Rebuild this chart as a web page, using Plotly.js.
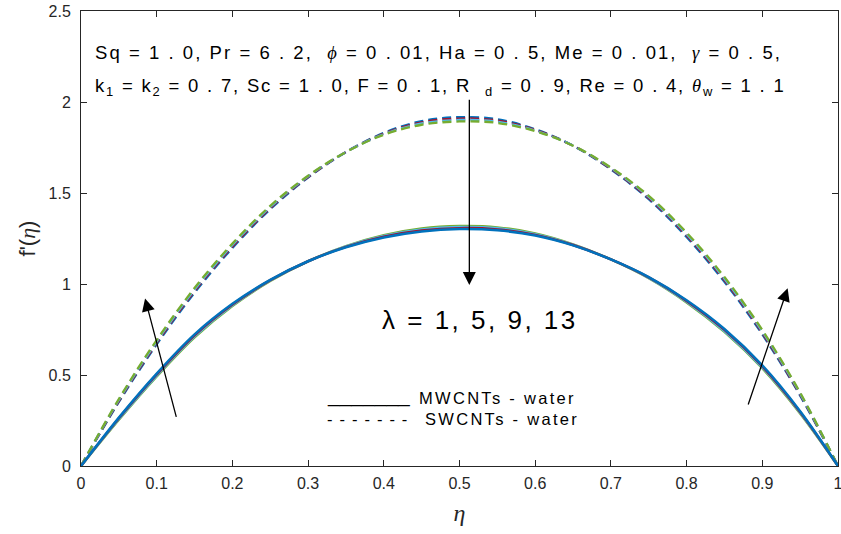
<!DOCTYPE html>
<html>
<head>
<meta charset="utf-8">
<script src="https://cdn.plot.ly/plotly-3.0.1.min.js"></script>
<style>
html,body{margin:0;padding:0;background:#fff;}
#chart{width:841px;height:534px;}
.annotation[data-index="0"] .annotation-text{letter-spacing:2.05px;}
.annotation[data-index="1"] .annotation-text{letter-spacing:1.8px;}
.annotation[data-index="2"] .annotation-text{letter-spacing:2.5px;}
.annotation[data-index="3"] .annotation-text{letter-spacing:0px;}
.annotation[data-index="4"] .annotation-text{letter-spacing:2.3px;}
.annotation[data-index="5"] .annotation-text{letter-spacing:1.2px;}
.annotation[data-index="6"] .annotation-text{letter-spacing:2.3px;}
</style>
</head>
<body>
<div id="chart"></div>
<script>
// similarity variable
const eta = [0,0.05,0.1,0.15,0.2,0.25,0.3,0.35,0.4,0.45,0.5,0.55,0.6,0.65,0.7,0.75,0.8,0.85,0.9,0.95,1];

// MWCNTs - water (solid lines)
const mw_blue  = [0,0.266,0.508,0.723,0.891,1.023,1.125,1.202,1.256,1.289,1.302,1.295,1.266,1.212,1.135,1.038,0.911,0.753,0.553,0.301,0];
const mw_red   = [0,0.262,0.503,0.718,0.887,1.021,1.125,1.204,1.260,1.294,1.307,1.300,1.270,1.214,1.135,1.036,0.907,0.748,0.548,0.297,0];
const mw_cyan  = [0,0.258,0.497,0.712,0.883,1.019,1.125,1.206,1.264,1.300,1.313,1.306,1.274,1.216,1.135,1.034,0.903,0.742,0.542,0.293,0];
const mw_green = [0,0.254,0.492,0.707,0.879,1.017,1.125,1.208,1.268,1.305,1.318,1.311,1.278,1.218,1.135,1.032,0.899,0.737,0.537,0.289,0];

// SWCNTs - water (dashed lines)
const sw_blue  = [0,0.352,0.668,0.952,1.198,1.411,1.585,1.725,1.830,1.895,1.917,1.905,1.850,1.760,1.630,1.466,1.258,1.012,0.723,0.387,0];
const sw_red   = [0,0.357,0.676,0.961,1.206,1.417,1.588,1.725,1.827,1.888,1.909,1.898,1.847,1.760,1.633,1.472,1.266,1.021,0.731,0.392,0];
const sw_cyan  = [0,0.363,0.684,0.969,1.214,1.423,1.592,1.725,1.823,1.882,1.901,1.892,1.843,1.760,1.637,1.478,1.274,1.029,0.739,0.398,0];
const sw_green = [0,0.368,0.692,0.978,1.222,1.429,1.595,1.725,1.820,1.875,1.893,1.885,1.840,1.760,1.640,1.484,1.282,1.038,0.747,0.403,0];

const xTickVals = [0,0.1,0.2,0.3,0.4,0.5,0.6,0.7,0.8,0.9,1];
const xTickText = ['0','0.1','0.2','0.3','0.4','0.5','0.6','0.7','0.8','0.9','1'];
const yTickVals = [0,0.5,1,1.5,2,2.5];
const yTickText = ['0','0.5','1','1.5','2','2.5'];

const C = {blue:'#0072BD', red:'#A2142F', cyan:'#4DBEEE', green:'#77AC30'};
const SANS = 'Liberation Sans, Arial, Helvetica, sans-serif';
const serif = s => `<span style="font-family:'Liberation Serif','Times New Roman',serif"><i>${s}</i></span>`;

function tr(y, color, dashed, name){
  return {x: eta, y: y, type:'scatter', mode:'lines', name: name, showlegend:false,
    line:{color: color, width: dashed ? 2.3 : 2.5, dash: dashed ? '9px,5px' : 'solid', shape:'spline', smoothing:1}};
}

const data = [
  tr(sw_blue, C.blue, true, 'SWCNTs λ=1'),
  tr(sw_red, C.red, true, 'SWCNTs λ=5'),
  tr(sw_cyan, C.cyan, true, 'SWCNTs λ=9'),
  tr(sw_green, C.green, true, 'SWCNTs λ=13'),
  tr(mw_green, C.green, false, 'MWCNTs λ=13'),
  tr(mw_cyan, C.cyan, false, 'MWCNTs λ=9'),
  tr(mw_red, C.red, false, 'MWCNTs λ=5'),
  tr(mw_blue, C.blue, false, 'MWCNTs λ=1')
];

const L = 81, R = 3, T = 11, B = 68, W = 841, H = 534;
const pw = W - L - R, ph = H - T - B;
const px = x => (x - L) / pw;
const py = y => (H - B - y) / ph;

function txt(text, x, y, size){
  return {text: text, xref:'paper', yref:'paper', x: px(x), y: py(y), xanchor:'left', yanchor:'middle',
    align:'left', showarrow:false, font:{family: SANS, size: size, color:'#000'}};
}
function arrow(x0, y0, x1, y1){
  return {text:'', xref:'x', yref:'y', axref:'x', ayref:'y', x: x1, y: y1, ax: x0, ay: y0,
    showarrow:true, arrowhead:2, arrowsize:2, arrowwidth:1.3, arrowcolor:'#000', standoff:0, startstandoff:0};
}

const line1 = `Sq = 1 . 0, Pr = 6 . 2, \u00a0${serif('ϕ')} = 0 . 01, Ha = 0 . 5, Me = 0 . 01, \u00a0${serif('γ')} = 0 . 5,`;
const line2 = `k<sub>1</sub> = k<sub>2</sub> = 0 . 7, Sc = 1 . 0, F = 0 . 1, R \u00a0<sub>d</sub> = 0 . 9, Re = 0 . 4, ${serif('θ')}<sub>w</sub> = 1 . 1`;

const annotations = [
  txt(line1, 93, 52, 18.5),
  txt(line2, 93, 87, 18.5),
  txt('λ = 1, 5, 9, 13', 380, 320, 26),
  txt('_______', 325, 395, 21),
  txt('MWCNTs - water', 417, 398, 16.5),
  txt('- - - - - - -', 325, 419, 16.5),
  txt('SWCNTs - water', 423, 419, 16.5),
  arrow(0.513, 2.02, 0.513, 0.995),
  arrow(0.1264, 0.262, 0.0846, 0.921),
  arrow(0.8807, 0.330, 0.9335, 0.976)
];

const axisCommon = {
  showline:true, linecolor:'#262626', linewidth:1, mirror:'ticks', ticks:'inside', ticklen:6, tickwidth:1,
  tickcolor:'#262626', showgrid:false, zeroline:false, tickmode:'array', ticklabeloverflow:'allow',
  tickfont:{family: SANS, size:16, color:'#262626'}
};

const layout = {
  width: W, height: H,
  margin:{l:L, r:R, t:T, b:B, pad:0},
  paper_bgcolor:'#fff', plot_bgcolor:'#fff',
  showlegend:false,
  xaxis: Object.assign({}, axisCommon, {
    range:[0,1], tickvals: xTickVals, ticktext: xTickText, ticklabelstandoff: 3,
    title:{text: serif('η'), font:{family:'Liberation Serif, serif', size:24, color:'#262626'}, standoff: 12}
  }),
  yaxis: Object.assign({}, axisCommon, {
    range:[0,2.5], tickvals: yTickVals, ticktext: yTickText, ticklabelstandoff: 6,
    title:{text: "f'(" + serif('η') + ")", font:{family: SANS, size:22, color:'#262626'}, standoff: 6}
  }),
  annotations: annotations
};

Plotly.newPlot('chart', data, layout, {displayModeBar:false, staticPlot:true});
</script>
</body>
</html>
